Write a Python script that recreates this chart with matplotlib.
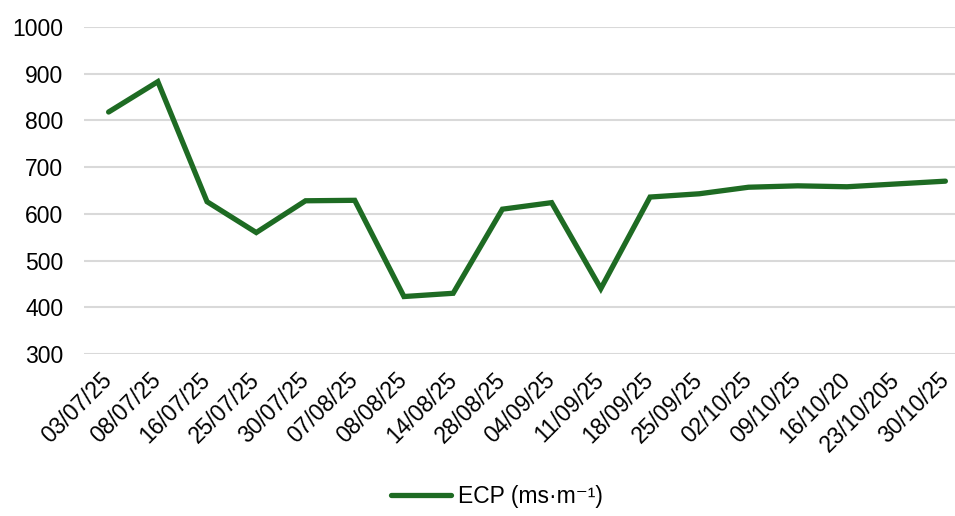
import matplotlib
matplotlib.use("Agg")
import matplotlib.pyplot as plt

dates = ["03/07/25", "08/07/25", "16/07/25", "25/07/25", "30/07/25", "07/08/25",
         "08/08/25", "14/08/25", "28/08/25", "04/09/25", "11/09/25", "18/09/25",
         "25/09/25", "02/10/25", "09/10/25", "16/10/20", "23/10/205", "30/10/25"]
ecp = [818, 883, 626, 560, 628, 629, 423, 430, 610, 624, 440, 636,
       643, 657, 660, 658, 664, 670]
yticks = [300, 400, 500, 600, 700, 800, 900, 1000]

plt.rcParams['font.family'] = ['Liberation Sans', 'DejaVu Sans']

fig = plt.figure(figsize=(9.55, 5.16), dpi=100)
W, H = 955, 516
left, right, top, bottom = 84, 970, 27, 354
ax = fig.add_axes([left / W, 1 - bottom / H, (right - left) / W, (bottom - top) / H])

x = list(range(len(dates)))
ax.plot(x, ecp, color='#1e6b23', lw=3.8, solid_capstyle='round', solid_joinstyle='miter',
        label='ECP (ms·m⁻¹)', zorder=3)

ax.set_xlim(-0.5, len(dates) - 0.5)
ax.set_ylim(300, 1000)
ax.set_yticks(yticks)
ax.set_yticklabels([str(v) for v in yticks])
ax.set_xticks(x)
ax.set_xticklabels(dates, rotation=45, ha='right', va='center', rotation_mode='anchor')
ax.tick_params(axis='y', length=0, pad=15, labelsize=16.5, colors='#000000')
ax.tick_params(axis='x', length=0, pad=16, labelsize=16.5, colors='#000000')

ax.grid(axis='y', color='#d9d9d9', lw=1.5, zorder=0)
ax.set_axisbelow(True)
for s in ax.spines.values():
    s.set_visible(False)

fig.legend(loc='center', bbox_to_anchor=(497 / W, 1 - 497 / H), frameon=False,
           fontsize=16.5, handlelength=2.6, handletextpad=0.3)

fig.savefig('out.png', dpi=100)
